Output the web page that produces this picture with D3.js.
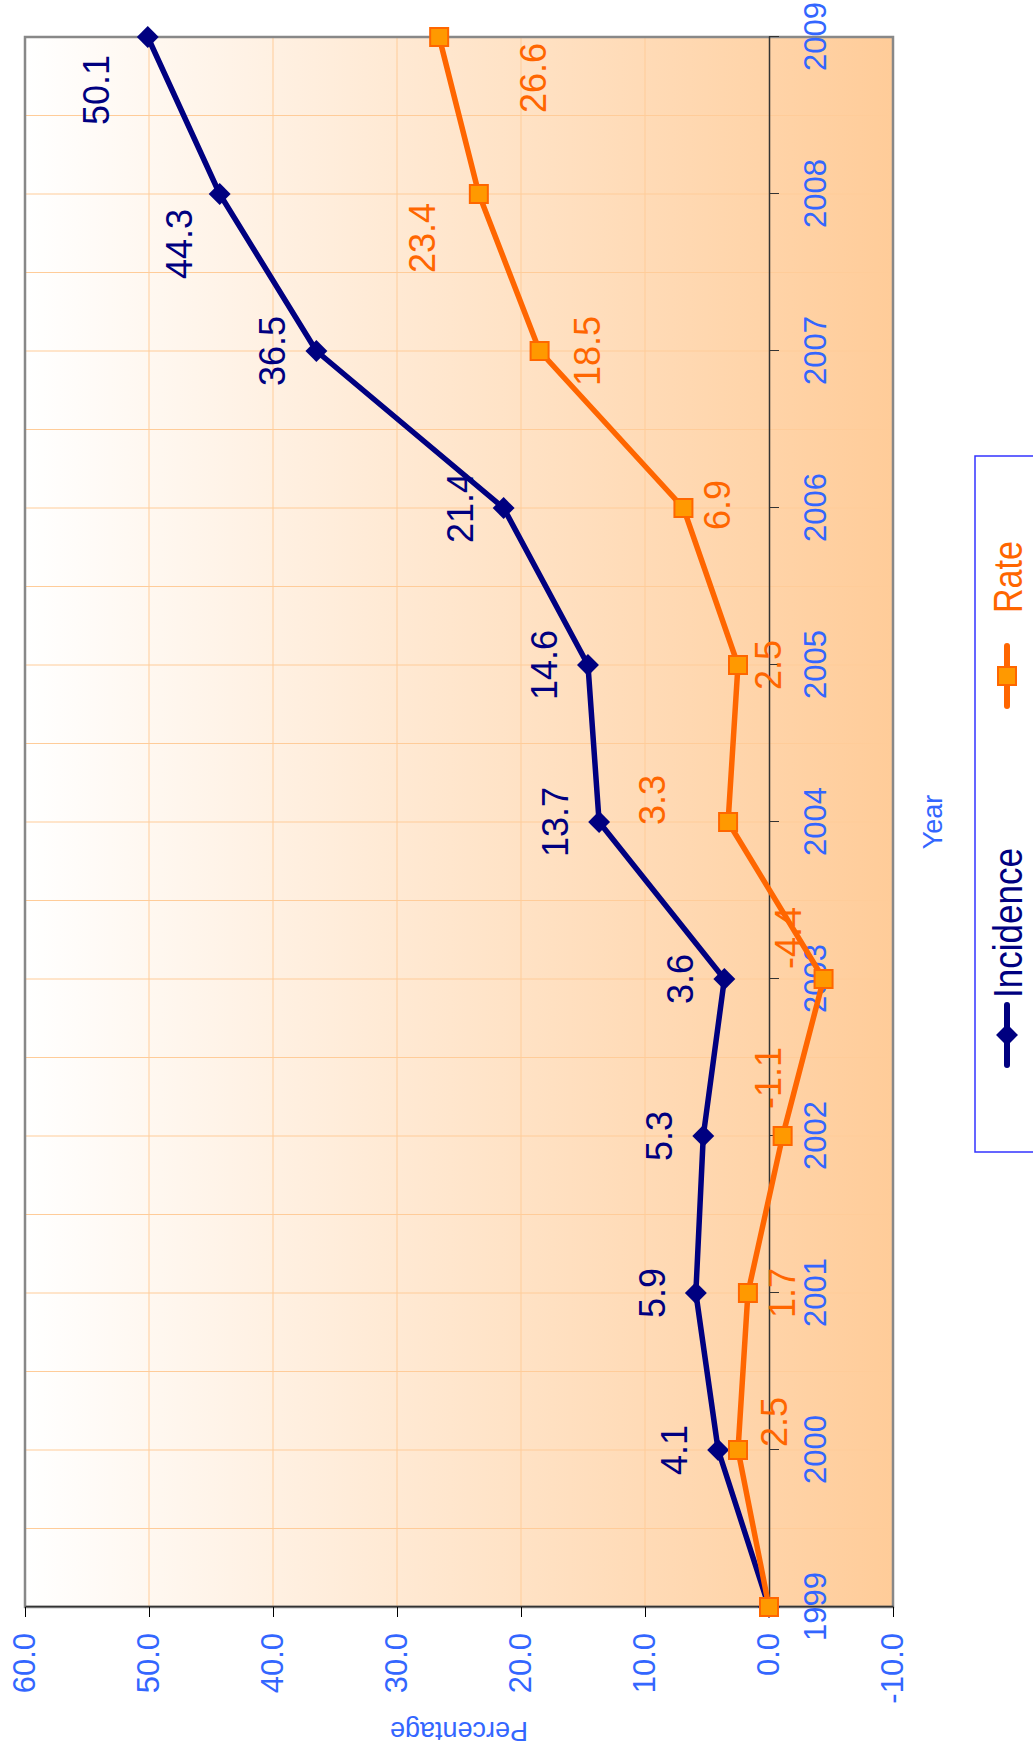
<!DOCTYPE html>
<html>
<head>
<meta charset="utf-8">
<script src="https://cdn.jsdelivr.net/npm/d3@7"></script>
<style>
  body { margin: 0; background: #fff; }
  text { font-family: "Liberation Sans", Arial, sans-serif; }
</style>
</head>
<body>
<div id="chart"></div>
<script>
/* Data */
const years = ["1999", "2000", "2001", "2002", "2003", "2004", "2005", "2006", "2007", "2008", "2009"];
const incidence = [0, 4.1, 5.9, 5.3, 3.6, 13.7, 14.6, 21.4, 36.5, 44.3, 50.1];
const rate = [0, 2.5, 1.7, -1.1, -4.4, 3.3, 2.5, 6.9, 18.5, 23.4, 26.6];
const valueTicks = [-10, 0, 10, 20, 30, 40, 50, 60];
const seriesNames = ["Incidence", "Rate"];

/* The chart is drawn as a normal line chart (years across, % up)
   and the whole thing is turned a quarter turn anticlockwise. */
const W = 1758, H = 1033;
const plot = { left: 151, right: 1721, top: 25, bottom: 893 };

const navy = "#000080", orange = "#FF6600", blue = "#3366FF";
const fmt = d => d.toFixed(1);   // plain hyphen for negatives, like the source

const svg = d3.select("#chart").append("svg")
    .attr("width", H)
    .attr("height", W);

const defs = svg.append("defs");
const grad = defs.append("linearGradient")
    .attr("id", "bg").attr("x1", 0).attr("y1", 0).attr("x2", 0).attr("y2", 1);
grad.append("stop").attr("offset", "0%").attr("stop-color", "#FFFFFF");
grad.append("stop").attr("offset", "100%").attr("stop-color", "#FFCC99");

const g = svg.append("g").attr("transform", `translate(0,${W}) rotate(-90)`);

/* Scales */
const x = d3.scalePoint().domain(years).range([plot.left, plot.right]);
const y = d3.scaleLinear().domain([-10, 60]).range([plot.bottom, plot.top]);

/* Plot background */
g.append("rect")
    .attr("x", plot.left).attr("y", plot.top)
    .attr("width", plot.right - plot.left).attr("height", plot.bottom - plot.top)
    .attr("fill", "url(#bg)");

/* Gridlines: value lines and half-year lines */
g.append("g")
    .selectAll("line")
    .data(valueTicks.filter(v => v > -10 && v < 60 && v !== 0))
    .join("line")
      .attr("x1", plot.left).attr("x2", plot.right)
      .attr("y1", d => y(d)).attr("y2", d => y(d))
      .attr("stroke", "#FFCC99").attr("stroke-width", 1);

const half = x.step() / 2;
g.append("g")
    .selectAll("line")
    .data(d3.range(1, (years.length - 1) * 2))
    .join("line")
      .attr("x1", d => plot.left + d * half).attr("x2", d => plot.left + d * half)
      .attr("y1", plot.top).attr("y2", plot.bottom)
      .attr("stroke", "#FFCC99").attr("stroke-width", 1);

/* Plot border */
g.append("rect")
    .attr("x", plot.left).attr("y", plot.top)
    .attr("width", plot.right - plot.left).attr("height", plot.bottom - plot.top)
    .attr("fill", "none").attr("stroke", "#888").attr("stroke-width", 2.5);

/* Value axis */
const yAxis = g.append("g")
    .attr("transform", `translate(${plot.left},0)`)
    .call(d3.axisLeft(y).tickValues(valueTicks).tickFormat(fmt)
        .tickSize(10).tickSizeOuter(0).tickPadding(16));
yAxis.select(".domain").attr("stroke", "#333").attr("stroke-width", 1.5);
yAxis.selectAll(".tick line").attr("stroke", "#000");
yAxis.selectAll(".tick text")
    .attr("fill", blue).style("font-size", "31px");

/* Category axis, crossing at 0 */
const xAxis = g.append("g")
    .attr("transform", `translate(0,${y(0)})`)
    .call(d3.axisBottom(x).tickSize(10).tickSizeOuter(0).tickPadding(25));
xAxis.select(".domain").attr("stroke", "#333").attr("stroke-width", 1.5);
xAxis.selectAll(".tick line").attr("stroke", "#333");
xAxis.selectAll(".tick text")
    .attr("fill", blue).style("font-size", "31px");

/* Axis titles */
g.append("text")
    .attr("transform", `translate(36,${(plot.top + plot.bottom) / 2}) rotate(-90)`)
    .attr("text-anchor", "middle")
    .attr("fill", blue).style("font-size", "27px")
    .text("Percentage");

g.append("text")
    .attr("x", (plot.left + plot.right) / 2).attr("y", 942)
    .attr("text-anchor", "middle")
    .attr("fill", blue).style("font-size", "27px")
    .text("Year");

/* Series */
const line = d3.line().x((d, i) => x(years[i])).y(d => y(d));
const diamond = d3.symbol(d3.symbolSquare, 240);
const square = d3.symbol(d3.symbolSquare, 324);

g.append("path").datum(incidence)
    .attr("d", line).attr("fill", "none")
    .attr("stroke", navy).attr("stroke-width", 5.5).attr("stroke-linejoin", "round");
g.append("g").selectAll("path")
    .data(incidence)
    .join("path")
      .attr("transform", (d, i) => `translate(${x(years[i])},${y(d)}) rotate(45)`)
      .attr("d", diamond).attr("fill", navy);

g.append("path").datum(rate)
    .attr("d", line).attr("fill", "none")
    .attr("stroke", orange).attr("stroke-width", 5.5).attr("stroke-linejoin", "round");
g.append("g").selectAll("path")
    .data(rate)
    .join("path")
      .attr("transform", (d, i) => `translate(${x(years[i])},${y(d)})`)
      .attr("d", square).attr("fill", "#FF9900")
      .attr("stroke", orange).attr("stroke-width", 2);

/* Data labels; a few were dragged by hand in the source, shifts are [along years, along %] */
const incShift = { "2008": [-50, -41], "2009": [-53, -52] };
const rateShift = {
  "2000": [28, 36], "2002": [58, -15], "2003": [41, -36], "2004": [22, -76],
  "2005": [0, 30], "2006": [3, 34], "2007": [0, 47], "2008": [-44, -57], "2009": [-41, 94]
};

function addLabels(values, colour, defShift, shifts) {
  g.append("g").selectAll("text")
    .data(values.map((v, i) => ({ v, year: years[i] })).filter(d => d.year !== "1999"))
    .join("text")
      .attr("x", d => x(d.year) + (shifts[d.year] || defShift)[0])
      .attr("y", d => y(d.v) + (shifts[d.year] || defShift)[1])
      .attr("dy", "0.36em")
      .attr("text-anchor", "middle")
      .attr("fill", colour).style("font-size", "36px")
      .text(d => fmt(d.v));
}
addLabels(incidence, navy, [0, -44], incShift);
addLabels(rate, orange, [0, 34], rateShift);

/* Legend (runs off the edge of the page, as in the source) */
const legend = g.append("g");
legend.append("rect")
    .attr("x", 606).attr("y", 975).attr("width", 696).attr("height", 120)
    .attr("fill", "#fff").attr("stroke", "#3333FF").attr("stroke-width", 1.5);

const legendItems = [
  { name: seriesNames[0], colour: navy, at: 723, textX: 760, len: 150, mark: "diamond" },
  { name: seriesNames[1], colour: orange, at: 1082, textX: 1145, len: 72, mark: "square" }
];
legendItems.forEach(it => {
  legend.append("line")
      .attr("x1", it.at - 30).attr("x2", it.at + 30)
      .attr("y1", 1007).attr("y2", 1007)
      .attr("stroke", it.colour).attr("stroke-width", 6).attr("stroke-linecap", "round");
  if (it.mark === "diamond") {
    legend.append("path")
        .attr("transform", `translate(${it.at},1007) rotate(45)`)
        .attr("d", d3.symbol(d3.symbolSquare, 240)).attr("fill", navy);
  } else {
    legend.append("path")
        .attr("transform", `translate(${it.at},1007)`)
        .attr("d", d3.symbol(d3.symbolSquare, 324)).attr("fill", "#FF9900")
        .attr("stroke", orange).attr("stroke-width", 2);
  }
  legend.append("text")
      .attr("x", it.textX).attr("y", 1022)
      .attr("textLength", it.len).attr("lengthAdjust", "spacingAndGlyphs")
      .attr("fill", it.colour).style("font-size", "40px")
      .text(it.name);
});
</script>
</body>
</html>
